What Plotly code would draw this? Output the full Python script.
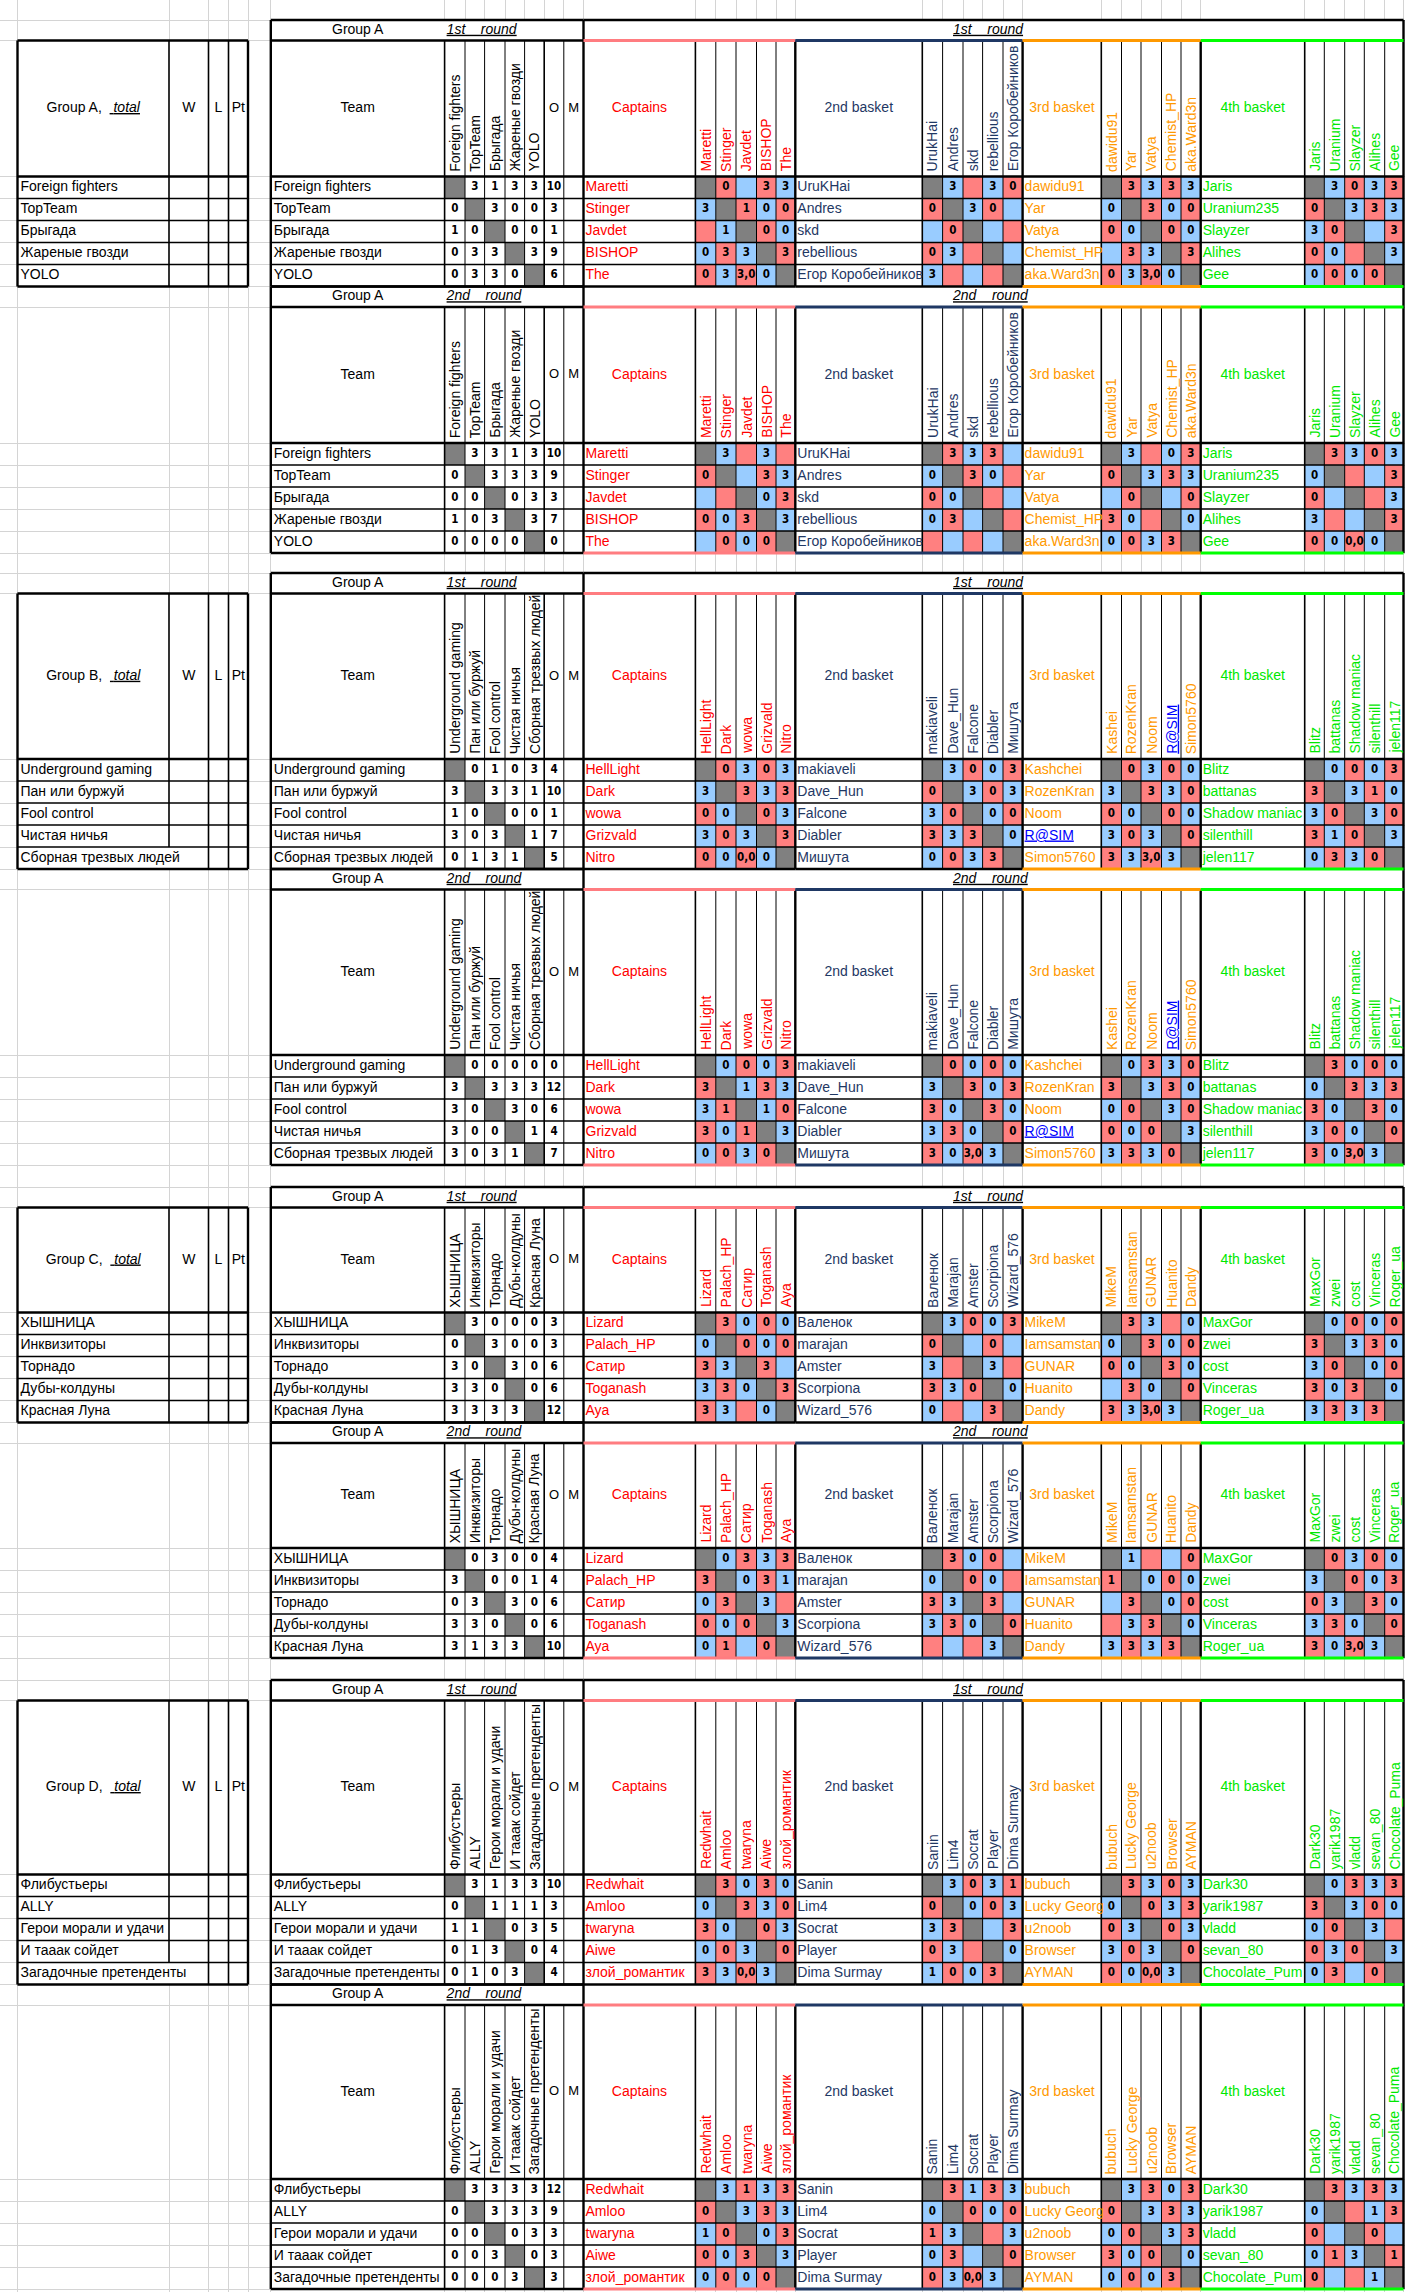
import plotly.graph_objects as go

# ---------------- Group A ----------------
A_teams = ["Foreign fighters", "TopTeam", "Брыгада", "Жареные гвозди", "YOLO"]
A_caps = ["Maretti", "Stinger", "Javdet", "BISHOP", "The"]
A_b2 = ["UruKHai", "Andres", "skd", "rebellious", "Егор Коробейников"]
A_b2_head = ["UrukHai", "Andres", "skd", "rebellious", "Егор Коробейников"]
A_b3 = ["dawidu91", "Yar", "Vatya", "Chemist_HP", "aka.Ward3n"]
A_b4 = ["Jaris", "Uranium235", "Slayzer", "Alihes", "Gee"]
A_b4_head = ["Jaris", "Uranium", "Slayzer", "Alihes", "Gee"]

# rows of the 5x5 tables: "-" = own cell, "." = empty
A1_team = ["- 3 1 3 3", "0 - 3 0 0", "1 0 - 0 0", "0 3 3 - 3", "0 3 3 0 -"]
A1_o = ["10", "3", "1", "9", "6"]
A1_cap = ["- 0 . 3 3", "3 - 1 0 0", ". 1 - 0 0", "0 3 3 - 3", "0 3 3,0 0 -"]
A1_b2 = ["- 3 . 3 0", "0 - 3 0 .", ". 0 - . .", "0 3 . - .", "3 . . . -"]
A1_b3 = ["- 3 3 3 3", "0 - 3 0 0", "0 0 - 0 0", ". 3 3 - 3", "0 3 3,0 0 -"]
A1_b4 = ["- 3 0 3 3", "0 - 3 3 3", "3 0 - . 3", "0 0 . - 3", "0 0 0 0 -"]

A2_team = ["- 3 3 1 3", "0 - 3 3 3", "0 0 - 0 3", "1 0 3 - 3", "0 0 0 0 -"]
A2_o = ["10", "9", "3", "7", "0"]
A2_cap = ["- 3 . 3 .", "0 - . 3 3", ". . - 0 3", "0 0 3 - 3", ". 0 0 0 -"]
A2_b2 = ["- 3 3 3 .", "0 - 3 0 .", "0 0 - . .", "0 3 . - .", ". . . . -"]
A2_b3 = ["- 3 . 0 3", "0 - 3 3 3", ". 0 - . 0", "3 0 . - 0", "0 0 3 3 -"]
A2_b4 = ["- 3 3 0 3", "0 - . . 3", "0 . - . 3", "3 . . - 3", "0 0 0,0 0 -"]

# ---------------- Group B ----------------
B_teams = ["Underground gaming", "Пан или буржуй", "Fool control", "Чистая ничья", "Сборная трезвых людей"]
B_caps = ["HellLight", "Dark", "wowa", "Grizvald", "Nitro"]
B_b2 = ["makiaveli", "Dave_Hun", "Falcone", "Diabler", "Мишута"]
B_b3 = ["Kashchei", "RozenKran", "Noom", "R@SIM", "Simon5760"]
B_b3_head = ["Kashei", "RozenKran", "Noom", "R@SIM", "Simon5760"]
B_b4 = ["Blitz", "battanas", "Shadow maniac", "silenthill", "jelen117"]

B1_team = ["- 0 1 0 3", "3 - 3 3 1", "1 0 - 0 0", "3 0 3 - 1", "0 1 3 1 -"]
B1_o = ["4", "10", "1", "7", "5"]
B1_cap = ["- 0 3 0 3", "3 - 3 3 3", "0 0 - 0 3", "3 0 3 - 3", "0 0 0,0 0 -"]
B1_b2 = ["- 3 0 0 3", "0 - 3 0 3", "3 0 - 0 0", "3 3 3 - 0", "0 0 3 3 -"]
B1_b3 = ["- 0 3 0 0", "3 - 3 3 0", "0 0 - 0 0", "3 0 3 - 0", "3 3 3,0 3 -"]
B1_b4 = ["- 0 0 0 3", "3 - 3 1 0", "3 0 - 3 0", "3 1 0 - 3", "0 3 3 0 -"]

B2_team = ["- 0 0 0 0", "3 - 3 3 3", "3 0 - 3 0", "3 0 0 - 1", "3 0 3 1 -"]
B2_o = ["0", "12", "6", "4", "7"]
B2_cap = ["- 0 0 0 3", "3 - 1 3 3", "3 1 - 1 0", "3 0 1 - 3", "0 0 3 0 -"]
B2_b2 = ["- 0 0 0 0", "3 - 3 0 3", "3 0 - 3 0", "3 3 0 - 0", "3 0 3,0 3 -"]
B2_b3 = ["- 0 3 3 0", "3 - 3 3 0", "0 0 - 3 0", "0 0 0 - 3", "3 3 3 0 -"]
B2_b4 = ["- 3 0 0 0", "0 - 3 3 3", "3 0 - 3 0", "3 0 0 - 0", "3 0 3,0 3 -"]

# ---------------- Group C ----------------
C_teams = ["ХЫШНИЦА", "Инквизиторы", "Торнадо", "Дубы-колдуны", "Красная Луна"]
C_caps = ["Lizard", "Palach_HP", "Сатир", "Toganash", "Aya"]
C_b2 = ["Валенок", "marajan", "Amster", "Scorpiona", "Wizard_576"]
C_b2_head = ["Валенок", "Marajan", "Amster", "Scorpiona", "Wizard_576"]
C_b3 = ["MikeM", "Iamsamstan", "GUNAR", "Huanito", "Dandy"]
C_b4 = ["MaxGor", "zwei", "cost", "Vinceras", "Roger_ua"]

C1_team = ["- 3 0 0 0", "0 - 3 0 0", "3 0 - 3 0", "3 3 0 - 0", "3 3 3 3 -"]
C1_o = ["3", "3", "6", "6", "12"]
C1_cap = ["- 3 0 0 0", "0 - 0 0 0", "3 3 - 3 .", "3 3 0 - 3", "3 3 . 0 -"]
C1_b2 = ["- 3 0 0 3", "0 - . 0 .", "3 . - 3 .", "3 3 0 - 0", "0 . . 3 -"]
C1_b3 = ["- 3 3 . 0", "0 - 3 0 0", "0 0 - 3 0", ". 3 0 - 0", "3 3 3,0 3 -"]
C1_b4 = ["- 0 0 0 0", "3 - 3 3 0", "3 0 - 0 0", "3 0 3 - 0", "3 3 3 3 -"]

C2_team = ["- 0 3 0 0", "3 - 0 0 1", "0 3 - 3 0", "3 3 0 - 0", "3 1 3 3 -"]
C2_o = ["4", "4", "6", "6", "10"]
C2_cap = ["- 0 3 3 3", "3 - 0 3 1", "0 3 - 3 .", "0 0 0 - 3", "0 1 . 0 -"]
C2_b2 = ["- 3 0 0 .", "0 - 0 0 .", "3 3 - 3 .", "3 3 0 - 0", ". . . 3 -"]
C2_b3 = ["- 1 . . 0", "1 - 0 0 0", ". 3 - 0 0", ". 3 3 - 0", "3 3 3 3 -"]
C2_b4 = ["- 0 3 0 0", "3 - 0 0 3", "0 3 - 3 0", "3 3 0 - 0", "3 0 3,0 3 -"]

# ---------------- Group D ----------------
D_teams = ["Флибустьеры", "ALLY", "Герои морали и удачи", "И тааак сойдет", "Загадочные претенденты"]
D_caps = ["Redwhait", "Amloo", "twaryna", "Aiwe", "злой_романтик"]
D_b2 = ["Sanin", "Lim4", "Socrat", "Player", "Dima Surmay"]
D_b3 = ["bubuch", "Lucky Georg", "u2noob", "Browser", "AYMAN"]
D_b3_head = ["bubuch", "Lucky George", "u2noob", "Browser", "AYMAN"]
D_b4 = ["Dark30", "yarik1987", "vladd", "sevan_80", "Chocolate_Pum"]
D_b4_head = ["Dark30", "yarik1987", "vladd", "sevan_80", "Chocolate_Puma"]

D1_team = ["- 3 1 3 3", "0 - 1 1 1", "1 1 - 0 3", "0 1 3 - 0", "0 1 0 3 -"]
D1_o = ["10", "3", "5", "4", "4"]
D1_cap = ["- 3 0 3 0", "0 - 3 3 0", "3 0 - 0 3", "0 0 3 - 0", "3 3 0,0 3 -"]
D1_b2 = ["- 3 0 3 1", "0 - 0 0 3", "3 3 - . 3", "0 3 . - 0", "1 0 0 3 -"]
D1_b3 = ["- 3 3 0 3", "0 - 0 3 3", "0 3 - 0 3", "3 0 3 - 0", "0 0 0,0 3 -"]
D1_b4 = ["- 0 3 3 3", "3 - 3 0 0", "0 0 - 3 .", "0 3 0 - 3", "0 3 . 0 -"]

D2_team = ["- 3 3 3 3", "0 - 3 3 3", "0 0 - 0 3", "0 0 3 - 0", "0 0 0 3 -"]
D2_o = ["12", "9", "3", "3", "3"]
D2_cap = ["- 3 1 3 3", "0 - 3 3 3", "1 0 - 0 3", "0 0 3 - 3", "0 0 0 0 -"]
D2_b2 = ["- 3 1 3 3", "0 - 0 0 0", "1 3 - . 3", "0 3 . - 0", "0 3 0,0 3 -"]
D2_b3 = ["- 3 3 0 3", "0 - 3 3 3", "0 0 - 3 3", "3 0 0 - 0", "0 0 0 3 -"]
D2_b4 = ["- 3 3 3 3", "0 - . 1 3", "0 . - 0 .", "0 1 3 - 1", "0 . . 1 -"]

ROUND_NAMES = ["1st", "2nd"]
BLOCK_TITLES = ["Captains", "2nd basket", "3rd basket", "4th basket"]

groups = [
    dict(name="A", teams=A_teams, names=[A_caps, A_b2, A_b3, A_b4],
         heads=[A_caps, A_b2_head, A_b3, A_b4_head],
         rounds=[(A1_team, A1_o, [A1_cap, A1_b2, A1_b3, A1_b4]),
                 (A2_team, A2_o, [A2_cap, A2_b2, A2_b3, A2_b4])]),
    dict(name="B", teams=B_teams, names=[B_caps, B_b2, B_b3, B_b4],
         heads=[B_caps, B_b2, B_b3_head, B_b4],
         rounds=[(B1_team, B1_o, [B1_cap, B1_b2, B1_b3, B1_b4]),
                 (B2_team, B2_o, [B2_cap, B2_b2, B2_b3, B2_b4])]),
    dict(name="C", teams=C_teams, names=[C_caps, C_b2, C_b3, C_b4],
         heads=[C_caps, C_b2_head, C_b3, C_b4],
         rounds=[(C1_team, C1_o, [C1_cap, C1_b2, C1_b3, C1_b4]),
                 (C2_team, C2_o, [C2_cap, C2_b2, C2_b3, C2_b4])]),
    dict(name="D", teams=D_teams, names=[D_caps, D_b2, D_b3, D_b4],
         heads=[D_caps, D_b2, D_b3_head, D_b4_head],
         rounds=[(D1_team, D1_o, [D1_cap, D1_b2, D1_b3, D1_b4]),
                 (D2_team, D2_o, [D2_cap, D2_b2, D2_b3, D2_b4])]),
]

# ---------------- sheet layout ----------------
W, H = 1405, 2292
X = [0, 17.5, 169, 208.5, 228.5, 248, 270.8, 444.6, 465, 484.6, 505, 524.6, 544.2,
     563.8, 583.5, 695.4, 715.8, 736, 756.5, 776, 795.3, 922.3, 942.6, 963, 982.6,
     1003, 1022.6, 1101.3, 1121.5, 1141, 1161.5, 1181, 1200.7, 1304.7, 1324.3,
     1344.7, 1364.3, 1384.7, 1403.5, 1405]
GROUP_TOP = [20, 573, 1187, 1680]
HDR_H = [136, 165.5, 105, 174]
H1 = 20.5
ROW_H = 22
NAME_COL = [14, 20, 26, 32]
PHASE = [[0, 1, 0, 1], [1, 0, 1, 0]]
RIGHT_ROUND_SHOWN = [[True, True], [True, True], [True, True], [True, False]]

TXT_COL = ["#ff0000", "#1f3864", "#ff9900", "#00e800"]
EDGE_COL = ["#ff7c80", "#1f3864", "#ff9900", "#00ff00"]
LINK_COL = "#0000ff"
SANS = "Liberation Sans, Arial, sans-serif"
NARROW = "Liberation Sans Narrow, Arial Narrow, DejaVu Sans Condensed, Liberation Sans, sans-serif"
THICK, MED, THIN = 2.4, 1.6, 1.0
NAME_SIZE, VERT_SIZE, NUM_SIZE = 14, 14, 11.5


def round_rows(top, hdr):
    ys = [top, top + H1, top + H1 + hdr]
    for _ in range(5):
        ys.append(ys[-1] + ROW_H)
    return ys


ROUND_YS = []
for top, hdr in zip(GROUP_TOP, HDR_H):
    r1 = round_rows(top, hdr)
    ROUND_YS.append([r1, round_rows(r1[-1], hdr)])

Y = sorted({0.0, float(H)} | {round(v, 2) for g in ROUND_YS for rr in g for v in rr})

Z = [[None] * (len(X) - 1) for _ in range(len(Y) - 1)]


def fill(y0, c, code):
    k = min(range(len(Y)), key=lambda i: abs(Y[i] - y0))
    Z[k][c] = code


segs = {}


def line(x0, y0, x1, y1, color="#000000", width=THIN):
    xs, ys = segs.setdefault((color, width), ([], []))
    xs += [x0, x1, None]
    ys += [y0, y1, None]


texts = {}


def label(x, y, s, color="#000000", size=NAME_SIZE, pos="middle center", family=SANS):
    xs, ys, ts = texts.setdefault((color, size, pos, family), ([], [], []))
    xs.append(x)
    ys.append(y)
    ts.append(s)


anns = []


def vlabel(c, ybot, s, color="#000000"):
    anns.append(dict(x=(X[c] + X[c + 1]) / 2, y=ybot - 3, xref="x", yref="y", text=s,
                     textangle=-90, xanchor="center", yanchor="bottom", showarrow=False,
                     font=dict(family=SANS, size=VERT_SIZE, color=color)))


def mid(c):
    return (X[c] + X[c + 1]) / 2


def cell_color(i, j, phase):
    if i == j:
        return 1
    d = j - i
    red = (abs(d) % 2 == 1) == (d > 0)
    if phase:
        red = not red
    return 2 if red else 3


def name_color(s, b):
    return LINK_COL if "@" in s else TXT_COL[b]


def name_text(s):
    return "<u>%s</u>" % s if "@" in s else s


def draw_total(g, ys):
    yt, yhd, yb = ys[1], ys[2], ys[7]
    for k in range(1, 7):
        for c in range(1, 5):
            fill(ys[k], c, 0)
    hm = (yt + yhd) / 2
    label(mid(1), hm, "Group %s,\u00a0\u00a0<u>\u00a0<i>total</i></u>" % g["name"])
    label(mid(2), hm, "W")
    label(mid(3), hm, "L")
    label(mid(4), hm, "Pt")
    for i, t in enumerate(g["teams"]):
        label(X[1] + 3, (ys[2 + i] + ys[3 + i]) / 2, t, pos="middle right")
        # long names run over the W column, hiding its left border
        if len(t) <= 20:
            line(X[2], ys[2 + i], X[2], ys[3 + i], width=MED)
    line(X[2], yt, X[2], yhd, width=MED)
    for c in (3, 4):
        line(X[c], yt, X[c], yb, width=MED)
    for y in (yt, yhd, yb):
        line(X[1], y, X[5], y, width=THICK)
    for k in range(3, 7):
        line(X[1], ys[k], X[5], ys[k], width=MED)
    line(X[1], yt, X[1], yb, width=THICK)
    line(X[5], yt, X[5], yb, width=THICK)


def draw_round(gi, g, r, ys):
    top, yh1, yhd, yb = ys[0], ys[1], ys[2], ys[7]
    team_m, o_vals, block_ms = g["rounds"][r]
    for k in range(7):
        for c in range(6, 38):
            fill(ys[k], c, 0)

    # header row 1
    m1 = (top + yh1) / 2
    rnd = "<i><u>%s\u00a0\u00a0\u00a0\u00a0round</u></i>" % ROUND_NAMES[r]
    label(mid(6), m1, "Group A", size=14)
    label(X[7] + 2, m1, rnd, size=14, pos="middle right")
    if RIGHT_ROUND_SHOWN[gi][r]:
        label(953, m1, rnd, size=14, pos="middle right")

    # header row 2
    hm = (yh1 + yhd) / 2
    label(mid(6), hm, "Team")
    label(mid(12), hm, "О", size=13)
    label(mid(13), hm, "М", size=13)
    for j, t in enumerate(g["teams"]):
        vlabel(7 + j, yhd, t)
    for b, n in enumerate(NAME_COL):
        label(mid(n), hm, BLOCK_TITLES[b], color=TXT_COL[b])
        for j, s in enumerate(g["heads"][b]):
            vlabel(n + 1 + j, yhd, name_text(s), name_color(s, b))

    # data rows
    for i in range(5):
        y0 = ys[2 + i]
        yc = (ys[2 + i] + ys[3 + i]) / 2
        label(X[6] + 3, yc, g["teams"][i], pos="middle right")
        for j, v in enumerate(team_m[i].split()):
            if v == "-":
                fill(y0, 7 + j, 1)
            elif v != ".":
                label(mid(7 + j), yc, "<b>%s</b>" % v, size=NUM_SIZE, family=NARROW)
        label(mid(12), yc, "<b>%s</b>" % o_vals[i], size=NUM_SIZE, family=NARROW)
        for b, n in enumerate(NAME_COL):
            s = g["names"][b][i]
            label(X[n] + 2, yc, name_text(s), color=name_color(s, b), pos="middle right")
            for j, v in enumerate(block_ms[b][i].split()):
                fill(y0, n + 1 + j, cell_color(i, j, PHASE[r][b]))
                if v not in ("-", "."):
                    label(mid(n + 1 + j), yc, "<b>%s</b>" % v, size=NUM_SIZE, family=NARROW)

    # borders: left part
    line(X[6], top, X[14], top, width=THICK)
    line(X[6], yh1, X[14], yh1, width=THICK)
    line(X[6], yb, X[14], yb, width=THICK)
    line(X[6], top, X[6], yb, width=THICK)
    line(X[14], top, X[14], yb, width=THICK)
    line(X[7], yh1, X[7], yb, width=MED)
    line(X[12], yh1, X[12], yb, width=MED)
    for c in (8, 9, 10, 11, 13):
        line(X[c], yh1, X[c], yb, width=THIN)
    # borders: right part
    if r == 0:
        line(X[14], top, X[38], top, width=THICK)
    line(X[38], top, X[38], yb, width=THICK)
    for b, n in enumerate(NAME_COL):
        line(X[n], yh1, X[n + 6], yh1, color=EDGE_COL[b], width=3)
        if r == 1 or b >= 2:
            line(X[n], yb, X[n + 6], yb, color=EDGE_COL[b], width=3)
        else:
            line(X[n], yb, X[n + 6], yb, width=THICK)
        line(X[n + 1], yh1, X[n + 1], yb, width=MED)
        for c in range(n + 2, n + 6):
            line(X[c], yh1, X[c], yb, width=THIN)
        if n + 6 < 38:
            line(X[n + 6], yh1, X[n + 6], yb, width=THICK)
    line(X[6], yhd, X[38], yhd, width=THICK)
    for k in range(3, 7):
        line(X[6], ys[k], X[38], ys[k], width=MED)


for gi, g in enumerate(groups):
    draw_total(g, ROUND_YS[gi][0])
    for r in range(2):
        draw_round(gi, g, r, ROUND_YS[gi][r])

fig = go.Figure()
fig.add_trace(go.Heatmap(
    z=Z, x=X, y=Y, zmin=0, zmax=3, showscale=False, hoverinfo="skip",
    colorscale=[[0, "#ffffff"], [0.25, "#ffffff"], [0.25, "#808080"], [0.5, "#808080"],
                [0.5, "#ff8080"], [0.75, "#ff8080"], [0.75, "#99ccff"], [1, "#99ccff"]]))

for (color, width), (xs, ys) in segs.items():
    fig.add_trace(go.Scatter(x=xs, y=ys, mode="lines", hoverinfo="skip",
                             line=dict(color=color, width=width)))

for (color, size, pos, family), (xs, ys, ts) in texts.items():
    fig.add_trace(go.Scatter(x=xs, y=ys, text=ts, mode="text", textposition=pos,
                             cliponaxis=False, hoverinfo="skip",
                             textfont=dict(color=color, size=size, family=family)))

fig.update_layout(
    width=W, height=H, margin=dict(l=0, r=0, t=0, b=0),
    paper_bgcolor="white", plot_bgcolor="white", showlegend=False,
    annotations=anns,
    xaxis=dict(range=[0, W], tickvals=X, showticklabels=False, ticks="",
               showgrid=True, gridcolor="#d4d4d4", gridwidth=1, zeroline=False, fixedrange=True),
    yaxis=dict(range=[H, 0], tickvals=Y, showticklabels=False, ticks="",
               showgrid=True, gridcolor="#d4d4d4", gridwidth=1, zeroline=False, fixedrange=True),
)

fig.write_html("out.html", config={"displayModeBar": False},
               post_script="document.body.style.margin='0';document.body.style.overflow='hidden';")
